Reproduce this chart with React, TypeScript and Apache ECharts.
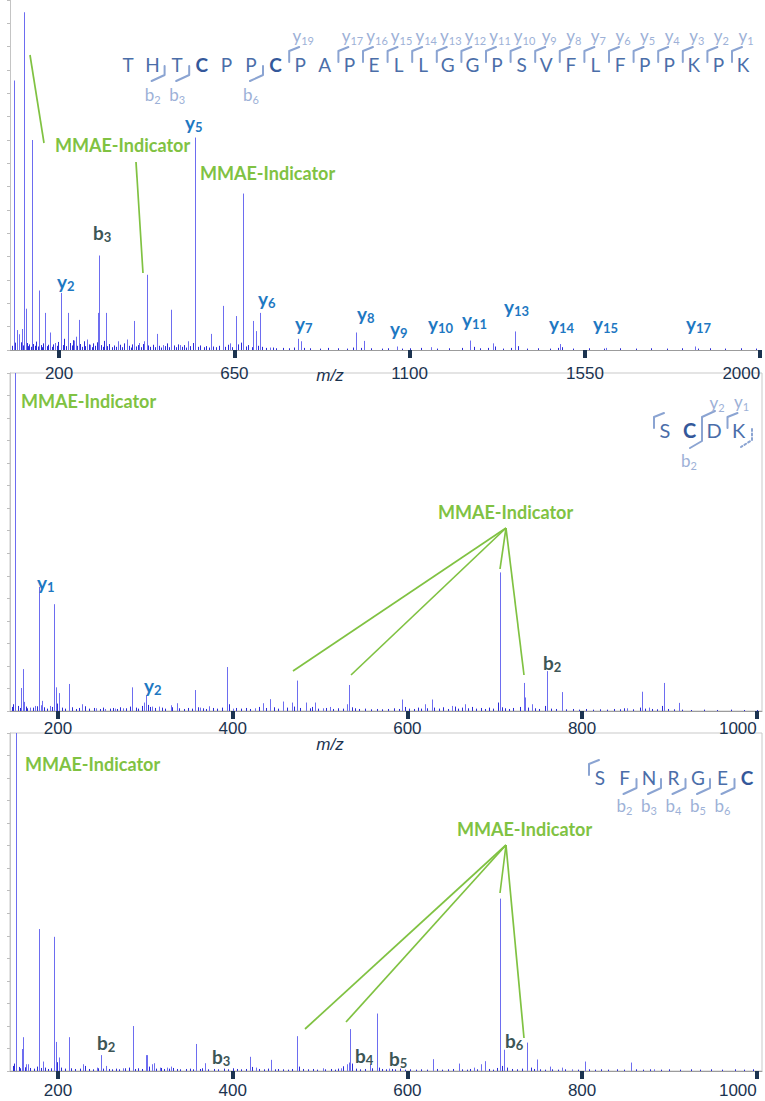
import React, { useEffect, useRef } from 'react';
import * as echarts from 'echarts';

// ---------------- data ----------------
const xTicksTop = [200, 650, 1100, 1550, 2000];
const xTicksLow = [200, 400, 600, 800, 1000];

const peptideTop = 'THTCPPCPAPELLGGPSVFLFPPKPK'.split('');
const peptideMid = 'SCDK'.split('');
const peptideLow = 'SFNRGEC'.split('');

// [m/z, relative intensity %] main peaks, panel 1
const peaksTop: [number, number][] = [
  [83, 77], [91, 5.7], [96, 4.5], [106, 6], [111, 96.5], [114.5, 11.8], [130, 60], [149, 17],
  [164, 10.6], [177, 5], [190, 2], [205, 16.3], [223, 10.6], [238.5, 2.7], [243, 3.8], [250, 8.6],
  [271, 3], [279.6, 1.5], [301, 10.6], [303, 27], [320, 10.6], [352, 2.5], [374, 3], [392, 8.3],
  [406, 2], [419, 2.5], [425, 21.5], [451, 4.6], [468, 1.4], [488, 11.5], [511, 1.4], [532, 2.5],
  [549, 60.7], [590, 4.6], [620, 12.6], [639, 1.9], [653, 9.7], [672, 44.7], [699, 8.3], [705, 5.4],
  [716, 10.6], [742, 0.7], [813, 3.2], [821.5, 2.5], [962, 5], [983, 2.6], [1068, 1], [1155, 0.8],
  [1254, 2.7], [1313.5, 1.9], [1370, 5.3], [1486.6, 1.7], [1605, 0.6], [1833, 1],
];
const noiseTop: [number, number][] = [
  [78, 1.2], [86, 2.1], [88, 1.4], [93, 1.8], [98, 2.6], [101, 1.5], [103, 2.2], [108, 1.3], [117, 2.0],
  [120, 1.1], [124, 1.6], [127, 0.9], [134, 1.7], [138, 1.2], [142, 2.4], [146, 1.0], [153, 1.4],
  [157, 0.8], [160, 1.9], [168, 1.1], [172, 1.5], [181, 0.9], [185, 1.6], [194, 1.2], [198, 2.3],
  [209, 1.4], [213, 3.2], [217, 1.1], [228, 2.0], [232, 1.3], [236, 2.8], [245, 1.2], [254, 1.7],
  [258, 0.9], [263, 2.5], [267, 1.1], [276, 1.6], [284, 0.8], [288, 1.9], [293, 1.2], [297, 2.2],
  [307, 1.4], [312, 0.9], [316, 2.6], [324, 1.1], [329, 1.7], [335, 0.8], [340, 1.3], [346, 0.9],
  [357, 1.5], [362, 0.8], [367, 1.9], [379, 1.2], [384, 0.7], [388, 1.6], [397, 1.0], [402, 1.4],
  [411, 0.8], [415, 1.7], [429, 1.3], [434, 0.9], [440, 1.5], [446, 0.8], [456, 1.2], [461, 0.7],
  [472, 1.1], [478, 1.9], [483, 0.8], [494, 1.3], [499, 0.8], [505, 1.6], [516, 0.9], [521, 1.4],
  [527, 0.7], [537, 1.1], [543, 2.0], [556, 0.9], [562, 1.3], [571, 0.8], [578, 1.1], [584, 0.7],
  [596, 1.0], [603, 0.8], [611, 1.2], [626, 0.9], [633, 1.5], [645, 0.8], [660, 1.6], [666, 2.1],
  [679, 1.0], [686, 1.4], [694, 0.8], [711, 1.2], [722, 0.9], [731, 0.6], [748, 0.7], [756, 0.5],
  [775, 0.6], [790, 0.5], [802, 0.7], [830, 0.6], [845, 0.5], [870, 0.4], [890, 0.6], [915, 0.5],
  [940, 0.4], [955, 0.7], [975, 0.6], [1000, 0.5], [1030, 0.4], [1045, 0.5], [1080, 0.4], [1100, 0.5],
  [1130, 0.6], [1170, 0.4], [1200, 0.5], [1235, 0.6], [1265, 0.9], [1280, 0.5], [1300, 0.6], [1320, 1.0],
  [1340, 0.4], [1360, 0.6], [1378, 1.1], [1400, 0.4], [1430, 0.5], [1460, 0.4], [1480, 0.6], [1492, 0.8],
  [1520, 0.4], [1560, 0.5], [1600, 0.4], [1640, 0.5], [1680, 0.4], [1720, 0.5], [1760, 0.4], [1800, 0.5],
  [1840, 0.4], [1870, 0.5], [1910, 0.4], [1950, 0.5], [1990, 0.4],
];

// panel 2
const peaksMid: [number, number][] = [
  [151, 100], [157.7, 6.8], [159.6, 12.4], [161.4, 2.7], [168, 1], [173.7, 1.5], [178.6, 36.7],
  [180.2, 1.7], [182, 3], [190.8, 1.5], [195.1, 31.6], [197.4, 7], [201.1, 5.3], [212.6, 8], [227.1, 2],
  [244, 0.8], [254, 0.6], [265, 0.7], [274, 0.8], [285, 7], [298.7, 2.5], [300.3, 4.7], [307.2, 1.3],
  [315.6, 1.3], [328.9, 1.7], [335.8, 2.3], [356.8, 6.2], [362.5, 1], [373.1, 1.4], [393, 13],
  [400.6, 0.7], [425.4, 0.8], [434.2, 2.3], [442.6, 3.5], [457.8, 2.8], [467.4, 2.5], [473.1, 9],
  [483.8, 2.5], [494, 2.5], [502.9, 0.8], [511.2, 1.2], [530.3, 2], [533.3, 7.7], [594.2, 3.4],
  [619.9, 2], [627.6, 3.4], [650.5, 1.5], [666.2, 2], [705.7, 41], [733.5, 8.3], [735.1, 4],
  [743.1, 2], [760.3, 11.8], [777, 5.6], [851.4, 0.8], [869, 5.7], [876.5, 1], [893.7, 8.3], [910.5, 2.4],
];
const noiseMid: [number, number][] = [
  [147, 1.2], [149, 2.0], [154, 1.5], [156, 0.9], [163, 1.3], [165, 0.8], [171, 1.0], [176, 1.4],
  [184, 1.1], [187, 0.7], [193, 1.2], [199, 2.2], [204, 1.0], [208, 0.7], [216, 1.1], [220, 0.6],
  [224, 0.9], [231, 1.4], [236, 0.7], [241, 0.9], [248, 0.6], [252, 1.0], [259, 0.7], [263, 0.9],
  [268, 0.6], [271, 1.1], [278, 0.8], [282, 1.3], [289, 1.0], [292, 0.7], [296, 1.5], [303, 1.8],
  [305, 1.2], [311, 0.9], [319, 1.0], [323, 0.7], [331, 1.1], [339, 0.8], [344, 0.6], [349, 0.9],
  [353, 0.7], [360, 1.1], [366, 0.8], [369, 0.6], [377, 0.9], [382, 0.7], [388, 1.0], [396, 2.0],
  [404, 0.9], [410, 0.7], [415, 0.9], [420, 0.6], [430, 1.2], [438, 0.9], [447, 1.1], [452, 0.7],
  [462, 1.0], [470, 1.3], [477, 0.9], [488, 0.8], [491, 1.2], [498, 0.7], [507, 0.9], [515, 0.6],
  [520, 0.8], [526, 0.7], [536, 1.1], [540, 0.8], [545, 0.6], [552, 0.7], [558, 0.5], [565, 0.6],
  [571, 0.5], [578, 0.6], [585, 0.8], [590, 0.6], [597, 1.2], [602, 0.7], [607, 0.6], [612, 1.0],
  [616, 0.7], [623, 0.8], [631, 1.0], [636, 0.7], [641, 1.1], [646, 0.6], [655, 1.3], [658, 0.7],
  [662, 1.0], [669, 0.8], [674, 1.2], [678, 0.7], [684, 0.9], [689, 0.6], [694, 1.0], [698, 0.7],
  [704, 2.5], [708, 1.1], [712, 0.8], [716, 0.6], [721, 0.9], [729, 1.2], [738, 1.0], [746, 0.8],
  [751, 0.6], [758, 1.5], [764, 0.7], [770, 0.6], [782, 0.5], [790, 0.6], [797, 0.4], [805, 0.6],
  [812, 0.4], [820, 0.5], [828, 0.4], [836, 0.6], [843, 0.5], [848, 0.8], [858, 0.5], [866, 1.0],
  [872, 0.7], [880, 0.6], [886, 0.5], [891, 1.5], [898, 0.6], [905, 0.5], [914, 0.4], [925, 0.3],
  [940, 0.4], [955, 0.3], [970, 0.4], [985, 0.3], [1000, 0.3],
];

// panel 3
const peaksLow: [number, number][] = [
  [152, 100], [158.5, 6.5], [160.3, 10], [163, 2], [166, 2], [178.6, 42], [182.5, 2.8], [195.4, 39.7],
  [197.7, 8.6], [201.5, 4], [212.9, 10], [228.3, 2], [244.3, 1], [248.9, 4.7], [254.9, 1.5], [274.7, 0.8],
  [285.8, 13.3], [300.3, 4.7], [301.8, 4.7], [307.9, 2], [309.8, 2.3], [316.7, 1], [324.4, 1],
  [328.9, 1.3], [357.6, 8], [368.2, 2.3], [419.7, 4.2], [426.5, 1], [443.4, 3.3], [474, 10.3],
  [503.5, 0.8], [523.5, 0.8], [530.3, 2], [533.5, 2.5], [534.1, 12.4], [557, 2], [564.9, 17],
  [578.7, 0.7], [629, 3.5], [658.8, 2.2], [676, 1], [684.8, 2], [689.4, 2.9], [706.5, 51],
  [710.6, 6.3], [737.2, 8.4], [748.4, 3.4], [762.9, 1.3], [777.5, 1], [788.4, 0.5], [803.8, 2.8],
  [855.6, 2.5], [882.3, 0.5],
];
const noiseLow: [number, number][] = [
  [148, 1.5], [150, 2.2], [155, 1.2], [157, 0.8], [162, 1.1], [168, 0.9], [172, 0.7], [176, 1.3],
  [180, 0.9], [185, 1.0], [189, 0.6], [192, 0.8], [199, 2.6], [203, 1.0], [208, 0.7], [215, 0.8],
  [219, 0.6], [225, 0.7], [231, 1.5], [235, 0.6], [240, 0.5], [246, 0.8], [251, 0.7], [258, 0.6],
  [262, 0.5], [266, 0.7], [270, 0.5], [277, 0.8], [281, 1.0], [288, 0.6], [292, 0.8], [296, 0.6],
  [304, 1.3], [312, 0.7], [318, 0.9], [321, 0.6], [327, 0.7], [332, 0.9], [336, 0.6], [340, 0.5],
  [346, 0.6], [351, 0.7], [355, 0.5], [362, 0.6], [365, 0.8], [372, 0.5], [378, 0.6], [383, 0.5],
  [390, 0.7], [395, 0.5], [400, 0.8], [405, 0.6], [410, 0.5], [415, 0.6], [422, 1.2], [430, 0.6],
  [436, 0.5], [440, 0.7], [448, 0.5], [452, 0.6], [458, 0.5], [463, 0.4], [468, 0.6], [476, 1.3],
  [480, 0.6], [486, 0.5], [492, 0.6], [497, 0.4], [506, 0.5], [512, 0.6], [517, 0.4], [521, 0.7],
  [526, 1.4], [531, 1.6], [537, 2.2], [541, 0.7], [546, 0.5], [551, 0.6], [560, 0.8], [567, 1.0],
  [571, 0.6], [575, 0.5], [582, 0.6], [586, 0.5], [592, 0.7], [597, 0.4], [603, 0.5], [610, 0.4],
  [616, 0.5], [622, 0.4], [634, 0.6], [640, 0.4], [646, 0.5], [652, 0.6], [662, 0.5], [668, 0.4],
  [672, 0.6], [680, 0.5], [693, 0.6], [698, 0.4], [703, 0.9], [708, 1.5], [714, 1.0], [720, 0.6],
  [725, 0.5], [731, 0.7], [741, 1.0], [745, 0.6], [752, 0.5], [757, 0.4], [766, 0.5], [772, 0.4],
  [781, 0.5], [795, 0.4], [808, 0.5], [815, 0.4], [822, 0.5], [830, 0.4], [840, 0.5], [848, 0.4],
  [862, 0.5], [870, 0.4], [878, 0.5], [890, 0.4], [900, 0.5], [912, 0.4], [925, 0.5], [935, 0.4],
  [948, 0.5], [960, 0.4], [975, 0.5], [985, 0.4], [996, 0.5],
];

// ion labels: [letter, subscript, left x, centre y, kind]
const ionLabels: [string, string, number, number, 'y' | 'b'][] = [
  ['y', '2', 57, 281, 'y'], ['b', '3', 93, 232, 'b'], ['y', '5', 185, 122, 'y'], ['y', '6', 258, 298, 'y'],
  ['y', '7', 295, 323, 'y'], ['y', '8', 357, 313, 'y'], ['y', '9', 390, 328, 'y'], ['y', '10', 428, 323, 'y'],
  ['y', '11', 462, 319, 'y'], ['y', '13', 504, 306, 'y'], ['y', '14', 549, 323, 'y'], ['y', '15', 593, 323, 'y'],
  ['y', '17', 686, 323, 'y'],
  ['y', '1', 37, 582, 'y'], ['y', '2', 144, 685, 'y'], ['b', '2', 543, 662, 'b'],
  ['b', '2', 97, 1042, 'b'], ['b', '3', 212, 1056, 'b'], ['b', '4', 355, 1055, 'b'], ['b', '5', 389, 1058, 'b'],
  ['b', '6', 505, 1040, 'b'],
];

const MMAE = 'MMAE-Indicator';
// [left x, centre y]
const mmaeLabels: [number, number][] = [[55, 145], [200, 173], [21, 401], [438, 512], [25, 764], [457, 829]];
// leader lines [x1, y1, x2, y2]
const leaders: [number, number, number, number][] = [
  [30, 55, 44, 143], [136, 162, 143, 273],
  [506, 528, 293, 671], [506, 528, 351, 675], [506, 528, 500, 569], [506, 528, 524, 675],
  [506, 845, 305, 1029], [506, 845, 346, 1022], [506, 845, 500, 893], [506, 845, 524, 1038],
];

// ---------------- styles ----------------
const SANS = 'Lato, Open Sans, DejaVu Sans, sans-serif';
const AXIS_FONT = 'Liberation Sans, Arial, sans-serif';
const PEAK = '#6d6df0';
const NOISE = '#2b2bd6';
const GREEN = '#80c242';
const ION_Y = '#1e78c2';
const ION_B = '#3d5656';
const SEQ = '#4b6ea9';
const SEQ_BOLD = '#34589a';
const FRAG = '#9db1d7';
const BRACKET = '#8ba4d2';
const NAVY = '#1b3350';

function richLabel(x: number, y: number, letter: string, sub: string, color: string, size: number, subSize: number, weight: string, align: string) {
  return {
    type: 'text', x, y, silent: true, z: 20,
    style: {
      text: `{a|${letter}}{s|${sub}}`,
      align, textAlign: align, verticalAlign: 'middle', textVerticalAlign: 'middle',
      rich: {
        a: { fill: color, fontSize: size, fontWeight: weight, fontFamily: SANS, lineHeight: size + 4, verticalAlign: 'middle' },
        s: { fill: color, fontSize: subSize, fontWeight: weight, fontFamily: SANS, lineHeight: subSize + 1, verticalAlign: 'bottom' },
      },
    },
  };
}

function plainText(x: number, y: number, text: string, color: string, size: number, weight = 'normal', align = 'center', family = SANS, italic = false) {
  return {
    type: 'text', x, y, silent: true, z: 20,
    style: {
      text, fill: color, fontSize: size, fontWeight: weight, fontFamily: family, fontStyle: italic ? 'italic' : 'normal',
      align, textAlign: align, verticalAlign: 'middle', textVerticalAlign: 'middle',
    },
  };
}

function polyline(points: number[][], color: string, width: number, dash?: number[]) {
  return {
    type: 'polyline', silent: true, z: 20,
    shape: { points },
    style: { stroke: color, lineWidth: width, fill: 'none', lineDash: dash, lineCap: 'round', lineJoin: 'round' },
  };
}

function yBracket(lx: number, ly: number) {
  return polyline([[lx - 11, ly - 2], [lx - 11, ly - 13], [lx - 1, ly - 17]], BRACKET, 2);
}
function bBracket(lx: number, ly: number) {
  return polyline([[lx + 12, ly + 2], [lx + 12, ly + 11], [lx - 1, ly + 17]], BRACKET, 2);
}

function sequence(letters: string[], x0: number, dx: number, ly: number, size: number, bold: number[], yIdx: number[], yLabelled: boolean[], bIdx: number[], bLabelDy: number) {
  const els: any[] = [];
  const n = letters.length;
  letters.forEach((c, i) => {
    const isBold = bold.includes(i);
    els.push(plainText(x0 + i * dx, ly, c, isBold ? SEQ_BOLD : SEQ, size, isBold ? 'bold' : 'normal'));
  });
  yIdx.forEach((i, k) => {
    const lx = x0 + i * dx;
    els.push(yBracket(lx, ly));
    if (yLabelled[k]) els.push(richLabel(lx + 3, ly - 29, 'y', String(n - i), FRAG, 17, 11, 'normal', 'center'));
  });
  bIdx.forEach((i) => {
    const lx = x0 + i * dx;
    els.push(bBracket(lx, ly));
    els.push(richLabel(lx, ly + bLabelDy, 'b', String(i + 1), FRAG, 17, 11, 'normal', 'center'));
  });
  return els;
}

function stick(idx: number, data: [number, number][], color: string, lw: number, z: number) {
  return {
    type: 'custom', xAxisIndex: idx, yAxisIndex: idx, data, silent: true, z,
    clip: true,
    renderItem: (_p: any, api: any) => {
      const mz = api.value(0) as number;
      const h = Math.min(api.value(1) as number, 100);
      const b = api.coord([mz, 0]);
      const t = api.coord([mz, h]);
      const x = Math.round(b[0]) + 0.5;
      return { type: 'line', shape: { x1: x, y1: b[1], x2: x, y2: t[1] }, style: { stroke: color, lineWidth: lw } };
    },
  };
}

function xAxisCfg(idx: number, min: number, max: number, ticks: number[], margin: number, alignMax: string) {
  return {
    type: 'value', gridIndex: idx, min, max,
    axisLine: { show: true, lineStyle: { color: '#9c9c9c', width: 1 } },
    axisTick: { show: true, customValues: ticks, length: 8, lineStyle: { color: NAVY, width: 4 } },
    axisLabel: {
      show: true, customValues: ticks, fontSize: 17, color: NAVY, fontFamily: AXIS_FONT, margin,
      alignMaxLabel: alignMax, formatter: (v: number) => String(v),
    },
    splitLine: { show: false },
    minorTick: { show: false },
  };
}
function yAxisCfg(idx: number) {
  return {
    type: 'value', gridIndex: idx, min: 0, max: 100, interval: 20 / 3,
    axisLine: { show: true, lineStyle: { color: '#c4c4c4', width: 1 } },
    axisTick: { show: true, length: 3, lineStyle: { color: '#bdbdbd' } },
    axisLabel: { show: false },
    splitLine: { show: false },
  };
}

function buildOption() {
  const elements: any[] = [];
  // sequences
  const topY = [7, 9, 10, 11, 12, 13, 14, 15, 16, 17, 18, 19, 20, 21, 22, 23, 24, 25];
  elements.push(...sequence(peptideTop, 128, 24.6, 64, 19, [3, 6], topY, topY.map(() => true), [1, 2, 5], 30));
  // middle: S C D K (C/D bracket pair drawn as one)
  elements.push(...sequence(peptideMid, 665, 24.5, 430, 20, [1], [0, 3], [false, true], [], 30));
  elements.push(polyline([[690, 448], [702, 441], [702, 417], [715, 411]], BRACKET, 2));
  elements.push(richLabel(717, 402, 'y', '2', FRAG, 17, 11, 'normal', 'center'));
  elements.push(richLabel(689, 460, 'b', '2', FRAG, 17, 11, 'normal', 'center'));
  elements.push(polyline([[752, 429], [752, 440], [741, 447]], BRACKET, 2, [2, 2.5]));
  elements.push(...sequence(peptideLow, 600, 24.5, 777, 19, [6], [0], [false], [1, 2, 3, 4, 5], 28));
  // MMAE labels and leader lines
  mmaeLabels.forEach(([x, y]) => elements.push(plainText(x, y, MMAE, GREEN, 18, 'bold', 'left')));
  leaders.forEach(([x1, y1, x2, y2]) => elements.push({
    type: 'line', silent: true, z: 20, shape: { x1, y1, x2, y2 }, style: { stroke: GREEN, lineWidth: 1.7 },
  }));
  // ion labels
  ionLabels.forEach(([l, s, x, y, k]) => elements.push(richLabel(x, y, l, s, k === 'y' ? ION_Y : ION_B, 19, 13, 'bold', 'left')));
  // m/z axis titles
  elements.push(plainText(330, 375, 'm/z', NAVY, 17, 'normal', 'center', AXIS_FONT, true));
  elements.push(plainText(330, 744, 'm/z', NAVY, 17, 'normal', 'center', AXIS_FONT, true));

  const gridBase = { left: 10, width: 752, height: 338, containLabel: false, outerBoundsMode: 'none' };
  return {
    animation: false,
    backgroundColor: '#ffffff',
    grid: [
      { ...gridBase, top: 0, width: 751, height: 350, show: false },
      { ...gridBase, top: 373, show: true, borderColor: '#c9c9c9', borderWidth: 1 },
      { ...gridBase, top: 733, show: true, borderColor: '#c9c9c9', borderWidth: 1 },
    ],
    xAxis: [
      xAxisCfg(0, 74, 2002, xTicksTop, 15, 'right'),
      xAxisCfg(1, 145, 1006, xTicksLow, 9, 'right'),
      xAxisCfg(2, 145, 1006, xTicksLow, 11, 'right'),
    ],
    yAxis: [yAxisCfg(0), yAxisCfg(1), yAxisCfg(2)],
    series: [
      stick(0, noiseTop, NOISE, 1, 2), stick(0, peaksTop, PEAK, 1, 3),
      stick(1, noiseMid, NOISE, 1, 2), stick(1, peaksMid, PEAK, 1, 3),
      stick(2, noiseLow, NOISE, 1, 2), stick(2, peaksLow, PEAK, 1, 3),
    ],
    graphic: { elements },
  };
}

export default function App() {
  const ref = useRef<HTMLDivElement>(null);
  useEffect(() => {
    const chart = echarts.init(ref.current!, null, { renderer: 'svg' });
    chart.setOption(buildOption() as any);
    return () => chart.dispose();
  }, []);
  return <div ref={ref} style={{ position: 'absolute', left: 0, top: 0, width: 765, height: 1101, background: '#fff' }} />;
}
